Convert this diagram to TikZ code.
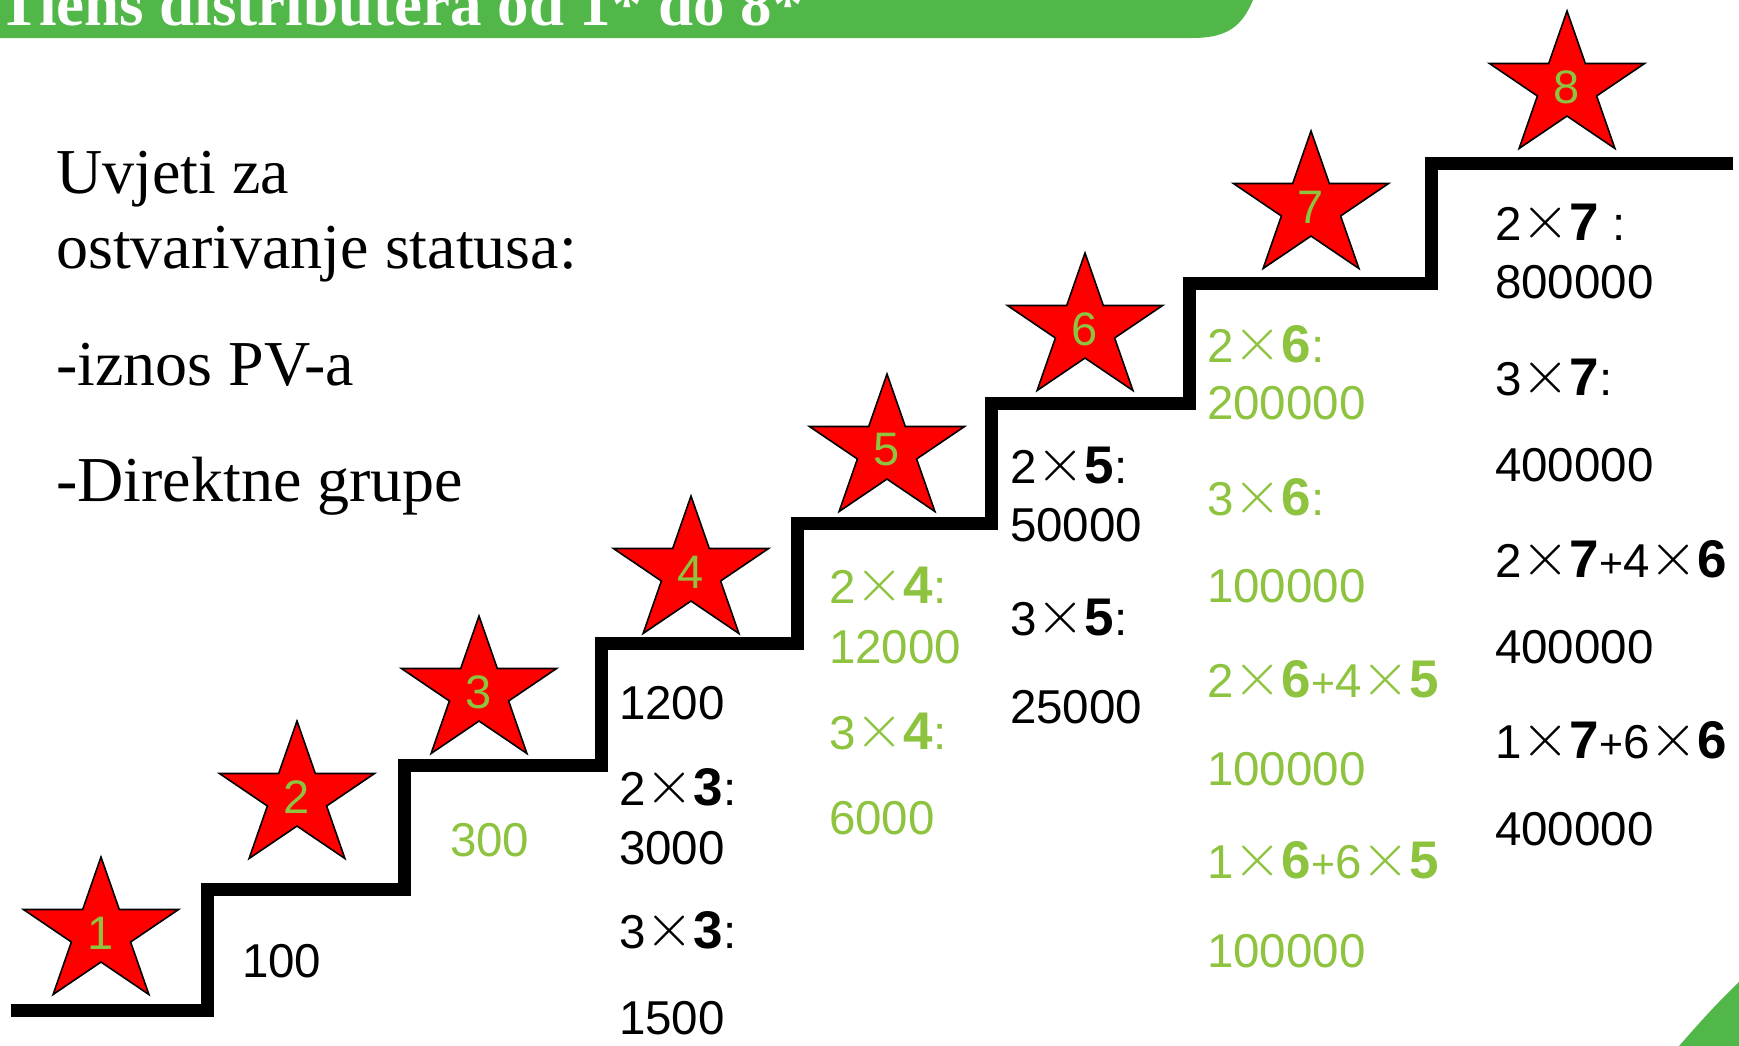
\documentclass[tikz,border=0pt]{standalone}
\usepackage{graphicx}
\usepackage{fontspec}
\setmainfont{Liberation Serif}
\newfontfamily\arialf{Liberation Sans}
\definecolor{txtgreen}{RGB}{141,195,63}
\definecolor{bangreen}{RGB}{82,183,73}
\newcommand\X{{\fontsize{10}{10}\selectfont\raisebox{1.5pt}{\scalebox{6.2}{$\times$}}}}
\newcommand\Pl{{\fontsize{41}{41}\selectfont+}}
\newcommand\BB[1]{{\fontsize{53}{53}\selectfont\bfseries #1}}
\tikzset{
  num/.style={anchor=base west, inner sep=0pt, outer sep=0pt, font=\arialf\fontsize{47.5}{47.5}\selectfont},
  gnum/.style={num, text=txtgreen},
  lefttxt/.style={anchor=base west, inner sep=0pt, font=\fontsize{64}{64}\selectfont},
  starsty/.style={fill=red, draw=black, line width=1.6pt, line join=miter},
  starnum/.style={inner sep=0pt, text=txtgreen, font=\arialf\fontsize{47}{47}\selectfont},
  stair/.style={line width=13pt, line join=miter, line cap=butt},
  bannertxt/.style={anchor=base west, inner sep=0pt, text=white, font=\bfseries\fontsize{63}{63}\selectfont},
}
\newcommand\starnode[3]{%
  \filldraw[starsty] plot[samples at={0,...,9}]
    ({#2+81.5*cos(90+36*\x)*(mod(\x,2)==0 ? 1 : 0.382)},
     {#3-76*sin(90+36*\x)*(mod(\x,2)==0 ? 1 : 0.382)}) -- cycle;
  \node[starnum] (star#1) at (#2,#3) {#1};}
\begin{document}
\begin{tikzpicture}[x=1pt,y=-1pt]
\useasboundingbox (0,0) rectangle (1739,1045);
\clip (0,0) rectangle (1739,1045);
\fill[white] (0,0) rectangle (1739,1045);
% banner
\fill[bangreen] (-5,-5) -- (1254,-5) -- (1253,0) .. controls (1242,26) and (1228,38) .. (1192,38) -- (-5,38) -- cycle;
\node[bannertxt] (title) at (-2,25) {Tiens distributera od 1* do 8*};
% bottom-right corner decoration
\fill[bangreen] (1679,1046) .. controls (1700,1022) and (1718,1002) .. (1740,981) -- (1740,1046) -- cycle;
% left text
\node[lefttxt] (t1) at (56,193) {Uvjeti za};
\node[lefttxt] (t2) at (56,268) {ostvarivanje statusa:};
\node[lefttxt] (t3) at (56,385) {-iznos PV-a};
\node[lefttxt] (t4) at (56,501) {-Direktne grupe};
% staircase
\draw[stair] (11,1010) -| (207,889) -| (404,765) -| (601,643) -| (797,523)
  -| (991,403) -| (1189,283) -| (1431,163) -- (1733,163);
% stars
\starnode{1}{101}{933}
\starnode{2}{297}{797}
\starnode{3}{479}{692}
\starnode{4}{691}{572}
\starnode{5}{887}{450}
\starnode{6}{1085}{329}
\starnode{7}{1311}{207}
\starnode{8}{1567}{87}
% column 1, 2
\node[num]  (c1a) at (242,977) {100};
\node[gnum] (c2a) at (450,856) {300};
% column 3
\node[num] (c3a) at (619,719) {1200};
\node[num] (c3b) at (619,805) {2\X\BB{3}:};
\node[num] (c3c) at (619,864) {3000};
\node[num] (c3d) at (619,948) {3\X\BB{3}:};
\node[num] (c3e) at (619,1034) {1500};
% column 4
\node[gnum] (c4a) at (829,603) {2\X\BB{4}:};
\node[gnum] (c4b) at (829,663) {12000};
\node[gnum] (c4c) at (829,749) {3\X\BB{4}:};
\node[gnum] (c4d) at (829,834) {6000};
% column 5
\node[num] (c5a) at (1010,483) {2\X\BB{5}:};
\node[num] (c5b) at (1010,541) {50000};
\node[num] (c5c) at (1010,635) {3\X\BB{5}:};
\node[num] (c5d) at (1010,723) {25000};
% column 6
\node[gnum] (c6a) at (1207,362) {2\X\BB{6}:};
\node[gnum] (c6b) at (1207,419) {200000};
\node[gnum] (c6c) at (1207,515) {3\X\BB{6}:};
\node[gnum] (c6d) at (1207,602) {100000};
\node[gnum] (c6e) at (1207,697) {2\X\BB{6}\Pl4\X\BB{5}};
\node[gnum] (c6f) at (1207,785) {100000};
\node[gnum] (c6g) at (1207,878) {1\X\BB{6}\Pl6\X\BB{5}};
\node[gnum] (c6h) at (1207,967) {100000};
% column 7
\node[num] (c7a) at (1495,240) {2\X\BB{7} :};
\node[num] (c7b) at (1495,298) {800000};
\node[num] (c7c) at (1495,395) {3\X\BB{7}:};
\node[num] (c7d) at (1495,481) {400000};
\node[num] (c7e) at (1495,577) {2\X\BB{7}\Pl4\X\BB{6}};
\node[num] (c7f) at (1495,663) {400000};
\node[num] (c7g) at (1495,758) {1\X\BB{7}\Pl6\X\BB{6}};
\node[num] (c7h) at (1495,845) {400000};
\end{tikzpicture}
\end{document}
